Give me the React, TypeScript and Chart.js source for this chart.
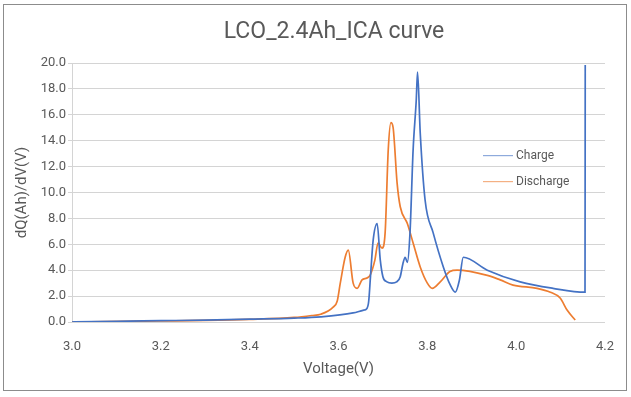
import React, { useEffect, useRef } from "react";
import { Chart, registerables } from "chart.js";

Chart.register(...registerables);

const chartTitle = "LCO_2.4Ah_ICA curve";
const xTitle = "Voltage(V)";
const yTitle = "dQ(Ah)/dV(V)";
const seriesNames = ["Charge", "Discharge"];

const chargeV = [3.0, 3.1, 3.2, 3.3, 3.4, 3.5, 3.56, 3.633, 3.655, 3.664, 3.668, 3.672, 3.678, 3.687, 3.694, 3.7, 3.709, 3.72, 3.731, 3.739, 3.745, 3.75, 3.755, 3.761, 3.768, 3.775, 3.778, 3.784, 3.795, 3.813, 3.836, 3.851, 3.863, 3.872, 3.881, 3.935, 4.009, 4.083, 4.155, 4.1555];
const chargeQ = [0.0, 0.05, 0.1, 0.15, 0.22, 0.3, 0.4, 0.7, 0.9, 1.05, 1.6, 3.5, 6.3, 7.6, 4.8, 3.5, 3.1, 3.0, 3.1, 3.5, 4.5, 5.0, 4.6, 6.9, 13.3, 17.1, 19.3, 14.6, 9.4, 6.9, 4.25, 2.9, 2.3, 3.2, 5.0, 4.0, 3.1, 2.6, 2.3, 19.85];

const dischargeV = [3.0, 3.2, 3.3, 3.4, 3.5, 3.54, 3.56, 3.588, 3.597, 3.604, 3.615, 3.622, 3.633, 3.642, 3.653, 3.664, 3.671, 3.682, 3.689, 3.698, 3.705, 3.712, 3.718, 3.723, 3.732, 3.739, 3.755, 3.768, 3.784, 3.8, 3.811, 3.829, 3.851, 3.867, 3.935, 3.964, 3.993, 4.047, 4.077, 4.099, 4.115, 4.133];
const dischargeQ = [0.0, 0.08, 0.12, 0.2, 0.35, 0.5, 0.6, 1.15, 1.6, 3.0, 5.0, 5.55, 3.0, 2.6, 3.25, 3.4, 3.6, 4.8, 6.1, 5.7, 6.9, 13.3, 15.4, 15.0, 10.7, 8.9, 7.6, 6.1, 4.25, 3.0, 2.6, 3.1, 3.9, 4.0, 3.6, 3.25, 2.85, 2.6, 2.3, 1.85, 0.9, 0.15];

const xTicks = [3.0, 3.2, 3.4, 3.6, 3.8, 4.0, 4.2];
const yTicks = [0, 2, 4, 6, 8, 10, 12, 14, 16, 18, 20];

const colors = ["#4472C4", "#ED7D31"];
const legendColors = ["#8eaadc", "#f4b083"];
const grey = "#595959";
const font = "Roboto";

const extrasPlugin = {
  id: "extras",
  afterDraw(chart: any) {
    const { ctx, chartArea } = chart;
    ctx.save();
    ctx.fillStyle = grey;
    ctx.font = `23px ${font}`;
    ctx.textAlign = "center";
    ctx.textBaseline = "middle";
    ctx.fillText(chartTitle, 334, 32);
    ctx.restore();

    const lx = chartArea.right - 122;
    const rows = [chartArea.top + 92, chartArea.top + 118];
    for (let i = 0; i < seriesNames.length; i++) {
      ctx.save();
      ctx.fillStyle = legendColors[i];
      ctx.fillRect(lx, rows[i], 30, 1.2);
      ctx.fillStyle = grey;
      ctx.font = `12px ${font}`;
      ctx.textAlign = "left";
      ctx.textBaseline = "middle";
      ctx.fillText(seriesNames[i], lx + 33, rows[i] + 0.5);
      ctx.restore();
    }
  },
};

export default function App() {
  const ref = useRef<HTMLCanvasElement>(null);
  useEffect(() => {
    if (!ref.current) return;
    const chart = new Chart(ref.current, {
      type: "line",
      data: {
        datasets: [
          {
            label: seriesNames[0],
            data: chargeV.map((v, i) => ({ x: v, y: chargeQ[i] })),
            borderColor: colors[0],
            borderWidth: 1.7,
            pointRadius: 0,
            cubicInterpolationMode: "monotone",
          },
          {
            label: seriesNames[1],
            data: dischargeV.map((v, i) => ({ x: v, y: dischargeQ[i] })),
            borderColor: colors[1],
            borderWidth: 1.7,
            pointRadius: 0,
            cubicInterpolationMode: "monotone",
          },
        ],
      },
      options: {
        animation: false,
        responsive: false,
        layout: { padding: { top: 63, right: 26, left: 0, bottom: 0 } },
        plugins: { legend: { display: false }, tooltip: { enabled: false }, title: { display: false } },
        scales: {
          x: {
            type: "linear",
            min: 3.0,
            max: 4.2,
            afterFit: (s: any) => { s.height = 75; },
            afterBuildTicks: (s: any) => { s.ticks = xTicks.map((v) => ({ value: v })); },
            grid: { display: false },
            border: { display: false },
            ticks: { padding: 9, color: grey, font: { family: font, size: 13 }, callback: (v: any) => Number(v).toFixed(1) },
            title: { display: true, text: xTitle, color: grey, font: { family: font, size: 15 }, padding: { top: 0, bottom: 19 } },
          },
          y: {
            min: 0,
            max: 20,
            afterFit: (s: any) => { s.width = 72; },
            afterBuildTicks: (s: any) => { s.ticks = yTicks.map((v) => ({ value: v })); },
            grid: { color: "#d4d4d4", lineWidth: 1, tickLength: 4 },
            border: { display: true, color: "#d4d4d4" },
            ticks: { padding: 2, color: grey, font: { family: font, size: 13 }, callback: (v: any) => Number(v).toFixed(1) },
            title: { display: true, text: yTitle, color: grey, font: { family: font, size: 15 }, padding: { top: 13, bottom: 0 } },
          },
        },
      },
      plugins: [extrasPlugin],
    } as any);
    return () => chart.destroy();
  }, []);
  return (
    <div style={{ position: "fixed", left: 0, top: 0, width: 631, height: 397, background: "#fff" }}>
      <canvas ref={ref} width={631} height={397} style={{ position: "absolute", left: 0, top: 0 }} />
      <div style={{ position: "absolute", left: 3, top: 4, width: 622, height: 385, border: "1px solid #8c8c8c", pointerEvents: "none" }} />
    </div>
  );
}
